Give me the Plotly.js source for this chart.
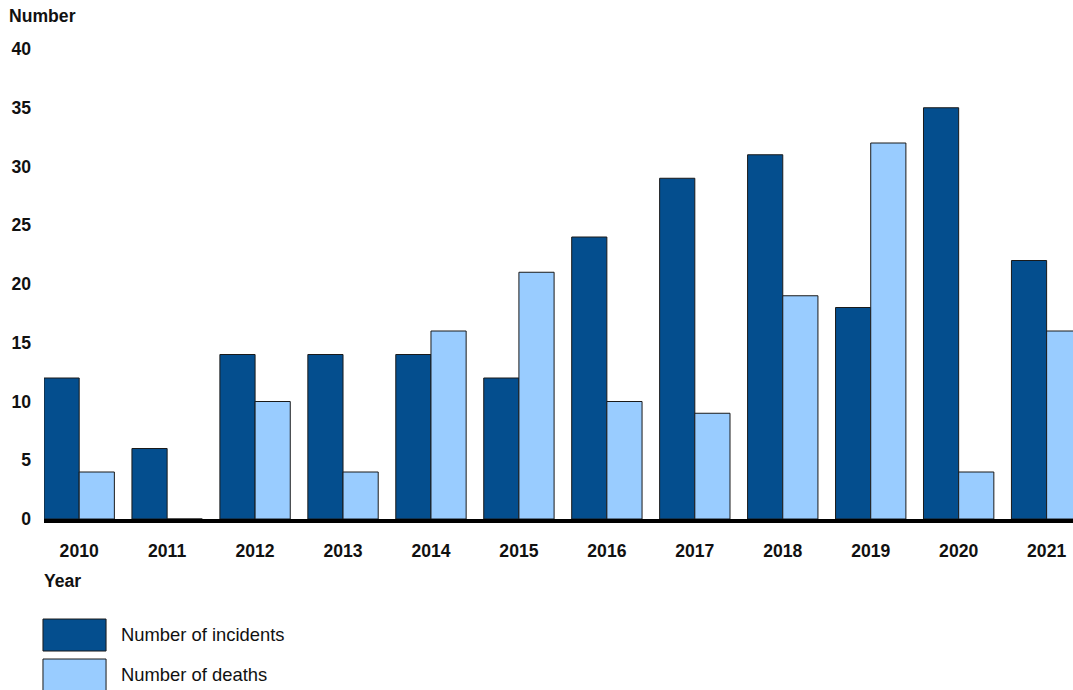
<!DOCTYPE html>
<html>
<head>
<meta charset="utf-8">
<script src="https://cdn.plot.ly/plotly-3.0.1.min.js"></script>
<style>html,body{margin:0;padding:0;background:#fff;}#chart{width:1073px;height:690px;}</style>
</head>
<body>
<div id="chart"></div>
<script>
const years = ['2010','2011','2012','2013','2014','2015','2016','2017','2018','2019','2020','2021'];
const incidents = [12, 6, 14, 14, 14, 12, 24, 29, 31, 18, 35, 22];
const deaths = [4, 0, 10, 4, 16, 21, 10, 9, 19, 32, 4, 16];
const seriesNames = ['Number of incidents', 'Number of deaths'];
const seriesColors = ['#044E8E', '#99CCFF'];
const yTicks = [0, 5, 10, 15, 20, 25, 30, 35, 40];

const font = 'Liberation Sans, Arial, sans-serif';
const traces = [incidents, deaths].map((vals, i) => ({
  type: 'bar', x: years, y: vals, name: seriesNames[i],
  marker: {color: seriesColors[i], line: {color: '#1a1a1a', width: 1}},
  hoverinfo: 'x+y'
}));

// legend (custom, large swatches)
const legendShapes = [], legendAnn = [];
seriesNames.forEach((n, i) => {
  const y0 = -0.2128 - i * 0.0851;
  legendShapes.push({type: 'rect', xref: 'paper', yref: 'paper',
    x0: -0.001, x1: 0.0603, y0: y0, y1: y0 - 0.0681,
    fillcolor: seriesColors[i], line: {color: '#1a1a1a', width: 1}});
  legendAnn.push({xref: 'paper', yref: 'paper', x: 0.0728, y: y0 - 0.034,
    xanchor: 'left', yanchor: 'middle', showarrow: false, text: n,
    font: {family: font, size: 18.4, color: '#111'}});
});

const layout = {
  width: 1073, height: 690,
  margin: {l: 44, r: 0, t: 49, b: 171},
  paper_bgcolor: '#fff', plot_bgcolor: '#fff',
  showlegend: false,
  barmode: 'group', bargap: 0.2, bargroupgap: 0,
  xaxis: {type: 'category', range: [-0.4, 11.3], showgrid: false, zeroline: false,
    showline: true, linecolor: '#000', linewidth: 4, ticks: '',
    ticklabelstandoff: 13,
    tickfont: {family: font, size: 17.6, color: '#111', weight: 'bold'}},
  yaxis: {range: [0, 40], tickvals: yTicks, ticktext: yTicks.map(String),
    showgrid: false, zeroline: false, showline: false, ticks: '',
    ticklabelstandoff: 12,
    tickfont: {family: font, size: 17.6, color: '#111', weight: 'bold'}},
  shapes: legendShapes,
  annotations: [
    {xref: 'paper', yref: 'paper', x: -0.0355, y: 1.0702, xanchor: 'left', yanchor: 'middle',
      showarrow: false, text: '<b>Number</b>', font: {family: font, size: 17.6, color: '#111'}},
    {xref: 'paper', yref: 'paper', x: -0.0015, y: -0.1319, xanchor: 'left', yanchor: 'middle',
      showarrow: false, text: '<b>Year</b>', font: {family: font, size: 17.6, color: '#111'}}
  ].concat(legendAnn)
};

Plotly.newPlot('chart', traces, layout, {displayModeBar: false, staticPlot: true});
</script>
</body>
</html>
